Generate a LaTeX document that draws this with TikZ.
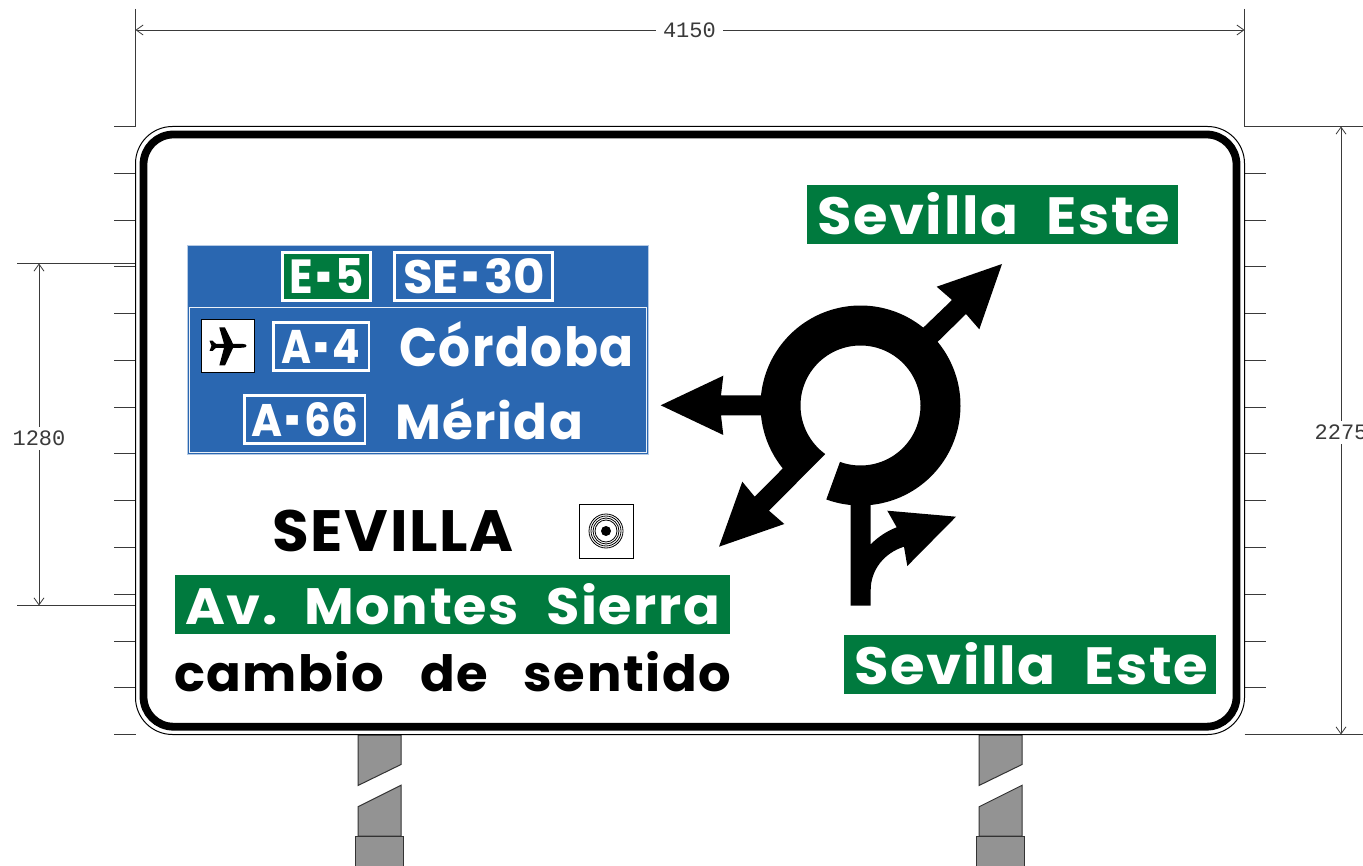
\documentclass[tikz,border=0pt]{standalone}
\usepackage{fontspec}
\usepackage{graphicx}
\usetikzlibrary{arrows.meta}
\setmainfont{Poppins}
\newfontfamily\dimfont{Liberation Mono}
\definecolor{signblue}{HTML}{2A67B1}
\definecolor{signgreen}{HTML}{007A3E}
\definecolor{postgrey}{HTML}{939393}
\definecolor{dimcol}{HTML}{3A3A3A}
\newcommand{\fitw}[3]{\resizebox{#1pt}{#2pt}{\bfseries\fontsize{60}{60}\selectfont\addfontfeature{LetterSpace=3}#3}}
\newcommand{\fitn}[3]{\resizebox{#1pt}{#2pt}{\bfseries\fontsize{60}{60}\selectfont #3}}
\newcommand{\hyp}{\hspace{5pt}\raisebox{-11pt}[0pt][0pt]{\scalebox{0.62}[1.5]{-}}\hspace{5pt}}
\tikzset{
  x=1pt,y=-1pt,
  sgntxt/.style={inner sep=0pt,outer sep=0pt,anchor=south west,text=white},
  blktxt/.style={sgntxt,text=black},
  panel/.style={fill=signgreen,draw=none},
  dimline/.style={draw=dimcol,line width=0.8pt,{Straight Barb[length=7pt,width=10pt,line width=0.8pt]}-{Straight Barb[length=7pt,width=10pt,line width=0.8pt]}},
  extline/.style={draw=dimcol,line width=0.9pt},
  dimlabel/.style={fill=white,text=dimcol,font=\dimfont\fontsize{22}{22}\selectfont,inner ysep=4pt},
  refbox/.style={draw=white,line width=2.6pt},
  post/.style={fill=postgrey,draw=black!80,line width=1pt},
}
\begin{document}
\begin{tikzpicture}
\useasboundingbox (0,0) rectangle (1363,866);
\fill[white] (0,0) rectangle (1363,866);
% posts
\foreach \px in {0,621}{
  \begin{scope}[xshift=\px pt]
  \draw[post] (358,735) -- (401,735) -- (401,764.5) -- (358,785.5) -- cycle;
  \draw[post] (401,785.3) -- (358,806.8) -- (358,836) -- (401,836) -- cycle;
  \draw[post] (355.5,870) -- (355.5,836) -- (403,836) -- (403,870);
  \end{scope}
}
% extension lines and scale ticks
\coordinate (tl) at (135.5,126.5);
\coordinate (tr) at (1244.5,126.5);
\coordinate (br) at (1244.5,734.5);
\coordinate (dimA) at (135.5,30);
\coordinate (dimB) at (1244.5,30);
\coordinate (dimC) at (39,263.5);
\coordinate (dimD) at (39,605.5);
\coordinate (dimE) at (1341,126.5);
\coordinate (dimF) at (1341,734.5);
\draw[extline] (135.5,9) -- (tl) -- (114,126.5);
\draw[extline] (1244.5,9) -- (tr) -- (1363,126.5);
\draw[extline] (br) -- (1363,734.5);
\draw[extline] (17,263.5) -- (135.5,263.5);
\draw[extline] (17,605.5) -- (135.5,605.5);
\foreach \n in {1,...,13}{
  \draw[extline] (114,126.5+46.77*\n) -- (135.5,126.5+46.77*\n);
  \draw[extline] (1245,126.5+46.77*\n) -- (1266,126.5+46.77*\n);
}
\draw[dimline] (dimA) -- node[dimlabel,inner xsep=7pt,pos=0.4995] (w4150) {4150} (dimB);
\draw[dimline] (dimC) -- node[dimlabel,inner xsep=0pt,pos=0.511] (h1280) {1280} (dimD);
\draw[dimline] (dimE) -- node[dimlabel,inner xsep=0pt,pos=0.503] (h2275) {2275} (dimF);
% sign plate
\draw[black,fill=white,line width=1pt,rounded corners=37pt] (135.5,126.5) rectangle (1244.5,734.5);
\draw[black,line width=7.8pt,rounded corners=30pt] (143.5,134.5) rectangle (1236.5,726.7);
% blue panel
\fill[signblue] (187,246) rectangle (648.3,454);
\draw[white!65!signblue,line width=1pt] (187,246) rectangle (648.3,454);
\draw[white!90!signblue,line width=1pt] (189.2,307.5) rectangle (646,452);
\draw[refbox,fill=signgreen] (282.3,252.3) rectangle (370.7,300.4);
\draw[refbox] (394.3,252.3) rectangle (552.6,300.4);
\draw[refbox] (273.2,322.3) rectangle (368.8,370.4);
\draw[refbox] (244.2,395.3) rectangle (364.8,443.6);
\draw[black,fill=white,line width=1pt] (201,319.5) rectangle (254.5,373);
\fill[black] (246.5,345.8) .. controls (246.5,344.6) and (245,344) .. (243,344)
  -- (233,343.8) -- (225,327.5) -- (219.3,327.5) -- (224,343.8) -- (216,343.9)
  -- (212.5,340.7) -- (209.5,340.7) -- (211.5,345.8) -- (209.5,351) -- (212.5,351)
  -- (216,347.8) -- (224,347.9) -- (219.3,365.5) -- (225,365.5) -- (233,348)
  -- (243,347.7) .. controls (245,347.7) and (246.5,347) .. cycle;
% panels
\fill[panel] (807,185) rectangle (1178,244);
\fill[panel] (844,635) rectangle (1215.5,694);
\fill[panel] (175,575) rectangle (729.5,634);
% texts
\node[sgntxt] (e5) at (289,293.5) {\fitn{75}{35}{E\hyp 5}};
\node[sgntxt] (se30) at (403,293.5) {\fitn{142}{35}{SE\hyp 30}};
\node[sgntxt] (a4) at (281,363.5) {\fitn{79}{34}{A\hyp 4}};
\node[sgntxt] (a66) at (251,436.5) {\fitn{107}{34}{A\hyp 66}};
\node[sgntxt] (cordoba) at (399,367) {\fitw{235}{45}{Córdoba}};
\node[sgntxt] (merida) at (395,440) {\fitw{188}{41}{Mérida}};
\node[sgntxt] (este1) at (817,234.5) {\fitw{353}{42}{Sevilla\hspace{30pt}Este}};
\node[sgntxt] (este2) at (854,684.5) {\fitw{354}{42}{Sevilla\hspace{30pt}Este}};
\node[sgntxt] (montes) at (185,624.8) {\fitw{535}{41}{Av.\hspace{30pt}Montes\hspace{30pt}Sierra}};
\node[blktxt] (sevilla) at (272,552) {\fitw{242}{41.5}{SEVILLA}};
\node[blktxt] (cambio) at (174,692) {\fitw{557}{40}{cambio\hspace{42pt}de\hspace{42pt}sentido}};
% radar box
\draw[black,fill=white,line width=0.9pt] (579.5,504.5) rectangle (633,558);
\foreach \r in {11,13,15,17}{\draw[black,line width=0.8pt] (606,531) circle[radius=\r pt];}
\fill[black] (606,531) circle[radius=5pt];
% roundabout
\fill[black] plot[domain=141:470,samples=160] ({860.5+100*cos(\x)},{405.5+100*sin(\x)})
  -- plot[domain=470:126,samples=160] ({860.5+60*cos(\x)},{405.5+60*sin(\x)})
  -- (769,510.7) -- (784.3,524) -- (719,546.7) -- (742.3,481.7) -- (754.7,496.7) -- cycle;
\fill[black] (775,395.3) -- (721,395.3) -- (723.3,375.7) -- (660.7,405.3) -- (723.3,435) -- (721,415.3) -- (775,415.3) -- cycle;
\fill[black] (914.3,336.3) -- (952,300) -- (936.7,286.7) -- (1002,264) -- (979.3,329.3) -- (966,314) -- (929.3,350) -- cycle;
\fill[black] (850.7,495) -- (870.7,495) -- (870.7,544.3)
  .. controls (878,537) and (887,531) .. (896.7,527.3)
  -- (887.3,510.7) -- (956,516.7) -- (907.3,566) -- (904,546.7)
  .. controls (884,553) and (870.7,570) .. (870.7,590)
  -- (870.7,605.7) -- (850.7,605.7) -- cycle;
\end{tikzpicture}
\end{document}
